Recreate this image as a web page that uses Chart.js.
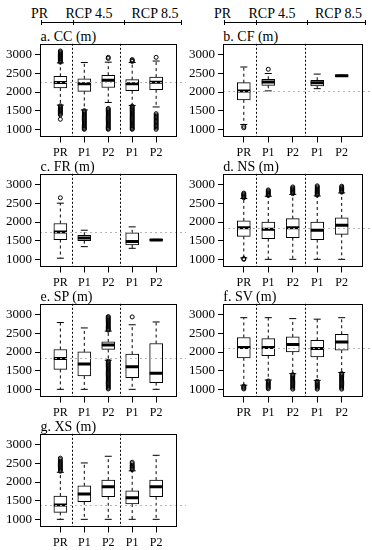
<!DOCTYPE html>
<html><head><meta charset="utf-8">
<script src="https://cdn.jsdelivr.net/npm/chart.js@4/dist/chart.umd.min.js"></script>
<style>
html,body{margin:0;padding:0;background:#fff;}
body{width:372px;height:550px;position:relative;overflow:hidden;font-family:'Liberation Serif','Times New Roman',serif;color:#000;}
canvas{position:absolute;}
.t{position:absolute;font-size:14px;line-height:14px;white-space:nowrap;}
.c{transform:translateX(-50%);}
.hl{position:absolute;height:1px;background:#000;}
.vt{position:absolute;width:1px;height:5px;background:#000;}
</style></head><body>
<div class="t c" style="left:39.5px;top:7px">PR</div>
<div class="t c" style="left:89px;top:7px">RCP 4.5</div>
<div class="t c" style="left:155px;top:7px">RCP 8.5</div>
<div class="t c" style="left:222.5px;top:7px">PR</div>
<div class="t c" style="left:272px;top:7px">RCP 4.5</div>
<div class="t c" style="left:338.5px;top:7px">RCP 8.5</div>
<div class="hl" style="left:41px;top:22px;width:141px"></div>
<div class="vt" style="left:41px;top:20px"></div><div class="vt" style="left:73px;top:20px"></div>
<div class="vt" style="left:124px;top:20px"></div><div class="vt" style="left:181px;top:20px"></div>
<div class="hl" style="left:224px;top:22px;width:142px"></div>
<div class="vt" style="left:224px;top:20px"></div><div class="vt" style="left:256px;top:20px"></div>
<div class="vt" style="left:307px;top:20px"></div><div class="vt" style="left:365px;top:20px"></div>
<div id="root"></div>
<script>
// ---- data ----
const categories = ['PR', 'P1', 'P2', 'P1', 'P2'];
const panelTitles = ['a. CC (m)', 'b. CF (m)', 'c. FR (m)', 'd. NS (m)', 'e. SP (m)', 'f. SV (m)', 'g. XS (m)'];
const yTicks = [1000, 1500, 2000, 2500, 3000];
const groupDividers = [1.5, 3.5];
const refValues = [2260, 2030, 1735, 1848, 1827, 2120, 1380];

const ccLow  = [1650, 1520, 1720, 1640, 1600];
const ccQ1   = [2110, 2016, 2120, 2035, 2060];
const ccMed  = [2255, 2220, 2315, 2220, 2265];
const ccQ3   = [2420, 2355, 2450, 2330, 2400];
const ccHigh = [2780, 2790, 2800, 2790, 2830];
const ccOut = [
  [2800, 2825, 2850, 2875, 2900, 2925, 2950, 2975, 3000, 3025, 3050, 3075, 3100, 1630, 1600, 1575, 1550, 1525, 1500, 1475, 1450, 1420, 1390, 1270],
  [1500, 1470, 1440, 1410, 1380, 1350, 1320, 1290, 1260, 1230, 1200, 1170, 1140, 1110, 1080, 1050, 1020, 1000],
  [2900, 2930, 1560, 1530, 1500, 1470, 1440, 1410, 1380, 1350, 1320, 1290, 1260, 1230, 1200, 1170, 1140, 1110, 1080, 1050, 1020, 1000],
  [2820, 2845, 2870, 1620, 1590, 1560, 1530, 1500, 1470, 1440, 1410, 1380, 1350, 1320, 1290, 1260, 1230, 1200, 1170, 1140, 1110, 1080, 1050, 1020, 1000],
  [2930, 1420, 1385, 1350, 1315, 1280, 1245, 1210, 1175, 1140, 1105, 1070, 1035, 1000]
];

const cfLow  = [1130, 2030, null, 2090, 2420];
const cfQ1   = [1790, 2180, null, 2160, 2420];
const cfMed  = [2030, 2270, null, 2245, 2437];
const cfQ3   = [2250, 2340, null, 2315, 2452];
const cfHigh = [2670, 2495, null, 2480, 2452];
const cfOut = [[1080, 1040], [2610], [], [], []];

const frLow  = [1030, 1340, null, 1295, 1505];
const frQ1   = [1530, 1500, null, 1385, 1505];
const frMed  = [1735, 1575, null, 1480, 1520];
const frQ3   = [1960, 1645, null, 1710, 1535];
const frHigh = [2505, 1780, null, 1870, 1535];
const frOut = [[2650], [], [], [], []];

const nsLow  = [1040, 1000, 1000, 1000, 1000];
const nsQ1   = [1615, 1555, 1580, 1530, 1670];
const nsMed  = [1848, 1805, 1848, 1780, 1910];
const nsQ3   = [2030, 2000, 2090, 2000, 2110];
const nsHigh = [2630, 2690, 2740, 2700, 2780];
const nsOut = [
  [2650, 2675, 2700, 2725, 2750, 2775, 1020, 1000],
  [2710, 2735, 2760, 2785, 2810, 2835, 2860],
  [2760, 2785, 2810, 2835, 2860, 2885, 2910, 2940],
  [2720, 2745, 2770, 2795, 2820, 2850, 2880, 2910, 2940, 2970],
  [2800, 2825, 2850, 2875, 2900, 2930, 2960]
];

const spLow  = [1000, 1000, 1780, 1000, 1000];
const spQ1   = [1535, 1360, 2070, 1310, 1180];
const spMed  = [1827, 1676, 2185, 1604, 1430];
const spQ3   = [2067, 2004, 2270, 1942, 2227];
const spHigh = [2790, 2645, 2560, 2730, 2805];
const spOut = [
  [],
  [],
  [2585, 2610, 2635, 2660, 2690, 2720, 2750, 2780, 2810, 2840, 2870, 2900, 2930, 2950, 1755, 1725, 1695, 1665, 1635, 1605, 1575, 1545, 1515, 1485, 1455, 1425, 1395, 1365, 1335, 1305, 1275, 1245, 1215, 1185, 1155, 1125, 1095, 1065, 1035, 1010],
  [2940],
  []
];

const svLow  = [1110, 1250, 1420, 1240, 1450];
const svQ1   = [1845, 1900, 2005, 1870, 2050];
const svMed  = [2120, 2120, 2200, 2095, 2270];
const svQ3   = [2390, 2360, 2405, 2315, 2475];
const svHigh = [2920, 2920, 2895, 2880, 2920];
const svOut = [
  [1085, 1060, 1035, 1010],
  [1225, 1195, 1165, 1135, 1105, 1075, 1045, 1015],
  [1395, 1365, 1335, 1305, 1275, 1245, 1215, 1185, 1155, 1125, 1095, 1065, 1035, 1005],
  [1215, 1185, 1155, 1125, 1095, 1065, 1035, 1005],
  [1425, 1395, 1365, 1335, 1305, 1275, 1245, 1215, 1185, 1155, 1125, 1095, 1065, 1035, 1005]
];

const xsLow  = [1000, 1000, 1000, 1000, 1000];
const xsQ1   = [1187, 1470, 1604, 1410, 1604];
const xsMed  = [1382, 1676, 1871, 1578, 1871];
const xsQ3   = [1622, 1898, 2049, 1764, 2049];
const xsHigh = [2260, 2511, 2690, 2300, 2716];
const xsOut = [
  [2290, 2320, 2350, 2380, 2410, 2440, 2470, 2500, 2530, 2560, 2600, 2640],
  [], [],
  [2330, 2360, 2390, 2420, 2450, 2490, 2530],
  []
];

// ---- layout (styles only) ----
const panels = [
  {lo: ccLow, q1: ccQ1, med: ccMed, q3: ccQ3, hi: ccHigh, out: ccOut, col: 0, row: 0},
  {lo: cfLow, q1: cfQ1, med: cfMed, q3: cfQ3, hi: cfHigh, out: cfOut, col: 1, row: 0},
  {lo: frLow, q1: frQ1, med: frMed, q3: frQ3, hi: frHigh, out: frOut, col: 0, row: 1},
  {lo: nsLow, q1: nsQ1, med: nsMed, q3: nsQ3, hi: nsHigh, out: nsOut, col: 1, row: 1},
  {lo: spLow, q1: spQ1, med: spMed, q3: spQ3, hi: spHigh, out: spOut, col: 0, row: 2},
  {lo: svLow, q1: svQ1, med: svMed, q3: svQ3, hi: svHigh, out: svOut, col: 1, row: 2},
  {lo: xsLow, q1: xsQ1, med: xsMed, q3: xsQ3, hi: xsHigh, out: xsOut, col: 0, row: 3}
];
const colX = [0, 186];
const yAxisW = [40, 37];
const padRight = [3, 4];
const titleX = [40.5, 223.3];
const rowTop = [43, 173, 303, 433];
const PADTOP = 10, AREA_H = 93.5, XAXIS_H = 30.5;

Chart.defaults.font.family = "'Liberation Serif', 'Times New Roman', serif";
Chart.defaults.color = '#000';

const framePlugin = {
  id: 'frame',
  beforeDatasetsDraw(chart) {
    const {ctx, chartArea: a, scales: {x}} = chart;
    ctx.save();
    ctx.strokeStyle = '#000'; ctx.lineWidth = 1; ctx.setLineDash([2, 2]);
    groupDividers.forEach(v => {
      const px = Math.round(x.getPixelForValue(v)) + 0.5;
      ctx.beginPath(); ctx.moveTo(px, a.top); ctx.lineTo(px, a.bottom); ctx.stroke();
    });
    ctx.restore();
  },
  afterDatasetsDraw(chart, args, opts) {
    const {ctx, chartArea: a, scales: {y}} = chart;
    const py = Math.round(y.getPixelForValue(opts.ref)) + 0.5;
    ctx.save();
    ctx.strokeStyle = '#b4b4b4'; ctx.lineWidth = 1; ctx.setLineDash([2, 3]);
    ctx.beginPath(); ctx.moveTo(a.left, py); ctx.lineTo(chart.width, py); ctx.stroke();
    ctx.restore();
  },
  afterDraw(chart) {
    const {ctx, chartArea: a} = chart;
    ctx.save();
    ctx.strokeStyle = '#000'; ctx.lineWidth = 1; ctx.setLineDash([]);
    const l = Math.round(a.left) + 0.5, t = Math.round(a.top) + 0.5;
    const r = Math.round(a.right) - 0.5, b = Math.round(a.bottom) - 0.5;
    ctx.strokeRect(l, t, r - l, b - t);
    ctx.restore();
  }
};

const root = document.getElementById('root');
panels.forEach((p, k) => {
  const title = document.createElement('div');
  title.className = 't';
  title.style.left = titleX[p.col] + 'px';
  title.style.top = (rowTop[p.row] - 12.7) + 'px';
  title.textContent = panelTitles[k];
  root.appendChild(title);

  const cv = document.createElement('canvas');
  const H = Math.round(PADTOP + AREA_H + XAXIS_H);
  cv.width = 186; cv.height = H;
  cv.style.left = colX[p.col] + 'px';
  cv.style.top = (rowTop[p.row] - PADTOP) + 'px';
  cv.style.width = '186px'; cv.style.height = H + 'px';
  root.appendChild(cv);

  const boxes = [], meds = [], caps = [], whisk = [], outs = [];
  categories.forEach((c, i) => {
    const xv = i + 1;
    if (p.med[i] == null) return;
    boxes.push({x: xv, y: [p.q1[i], p.q3[i]]});
    meds.push({x: xv, y: p.med[i]});
    caps.push({x: xv, y: p.lo[i]}, {x: xv, y: p.hi[i]});
    whisk.push({x: xv, y: p.q3[i]}, {x: xv, y: p.hi[i]}, {x: xv, y: null},
               {x: xv, y: p.q1[i]}, {x: xv, y: p.lo[i]}, {x: xv, y: null});
    p.out[i].forEach(v => outs.push({x: xv, y: v}));
  });

  new Chart(cv, {
    type: 'bar',
    data: {
      datasets: [
        {type: 'bar', data: boxes, backgroundColor: '#fff', borderColor: '#000', borderWidth: 1,
         borderSkipped: false, barThickness: 13, order: 4},
        {type: 'line', data: whisk, borderColor: '#000', borderWidth: 1, borderDash: [3, 3],
         pointRadius: 0, spanGaps: false, tension: 0, fill: false, order: 3},
        {type: 'scatter', data: caps, pointStyle: 'line', pointRadius: 3.5, borderColor: '#000',
         pointBorderWidth: 1, borderWidth: 1, order: 2},
        {type: 'scatter', data: outs, pointStyle: 'circle', pointRadius: 2, borderColor: '#000',
         backgroundColor: 'rgba(0,0,0,0)', borderWidth: 1, order: 1},
        {type: 'scatter', data: meds, pointStyle: 'line', pointRadius: 6.5, borderColor: '#000',
         borderWidth: 3, pointBorderWidth: 3, order: 0}
      ]
    },
    options: {
      responsive: false,
      animation: false,
      events: [],
      layout: {padding: {top: PADTOP, right: padRight[p.col], left: 0, bottom: 0}},
      plugins: {legend: {display: false}, tooltip: {enabled: false}, frame: {ref: refValues[k]}},
      scales: {
        x: {
          type: 'linear', min: 0.15, max: 5.85, offset: false,
          afterBuildTicks: s => { s.ticks = categories.map((c, i) => ({value: i + 1})); },
          afterFit: s => { s.height = XAXIS_H; },
          grid: {drawOnChartArea: false, drawTicks: true, tickLength: 6, color: '#000', offset: false},
          border: {display: false},
          ticks: {color: '#000', font: {size: 12}, padding: 3, maxRotation: 0, autoSkip: false,
                  callback: (v, i) => categories[i]}
        },
        y: {
          type: 'linear', min: 808, max: 3292, beginAtZero: false,
          afterBuildTicks: s => { s.ticks = yTicks.map(v => ({value: v})); },
          afterFit: s => { s.width = yAxisW[p.col]; },
          grid: {drawOnChartArea: false, drawTicks: true, tickLength: 5, color: '#000'},
          border: {display: false},
          ticks: {color: '#000', font: {size: 13}, padding: 3, callback: v => String(v)}
        }
      }
    },
    plugins: [framePlugin]
  });
});
</script>
</body></html>
